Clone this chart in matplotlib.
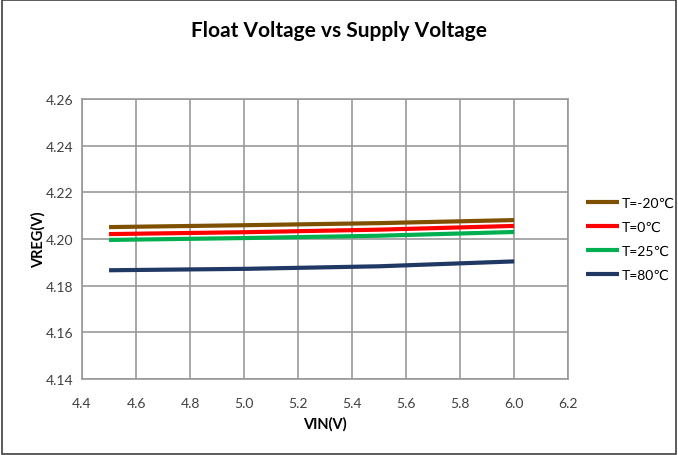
import matplotlib
matplotlib.use('Agg')
import matplotlib.pyplot as plt
from matplotlib.patches import Rectangle

plt.rcParams['font.family'] = ['Lato', 'DejaVu Sans']

vin = [4.5, 5.0, 5.5, 6.0]
t_m20 = [4.2051, 4.2059, 4.2068, 4.2081]
t_0 = [4.2021, 4.2029, 4.2040, 4.2056]
t_25 = [4.1996, 4.2004, 4.2014, 4.2030]
t_80 = [4.1866, 4.1872, 4.1883, 4.1904]

labels = ['T=-20℃', 'T=0℃', 'T=25℃', 'T=80℃']
colors = ['#7f5000', '#ff0000', '#00b050', '#1f3864']
series = [t_m20, t_0, t_25, t_80]

fig = plt.figure(figsize=(6.78, 4.56), dpi=100)
ax = fig.add_axes([0.121, 0.1667, 0.717, 0.614])

for vals, lab, col in zip(series, labels, colors):
    ax.plot(vin, vals, color=col, linewidth=3, label=lab, solid_capstyle='butt')

ax.set_xlim(4.4, 6.2)
ax.set_ylim(4.14, 4.26)
ax.set_xticks([4.4 + 0.2 * i for i in range(10)])
ax.set_yticks([4.14 + 0.02 * i for i in range(7)])
ax.xaxis.set_major_formatter(matplotlib.ticker.FormatStrFormatter('%.1f'))
ax.yaxis.set_major_formatter(matplotlib.ticker.FormatStrFormatter('%.2f'))
ax.grid(True, color='#999999', linewidth=1.2)
ax.set_axisbelow(True)
for s in ax.spines.values():
    s.set_color('#999999')
    s.set_linewidth(1.2)
ax.tick_params(length=0, labelsize=10, colors='#404040')
ax.tick_params(axis='x', pad=13)
ax.tick_params(axis='y', pad=6)

ax.set_xlabel('VIN(V)', fontsize=10.5, fontweight='bold', labelpad=5)
ax.set_ylabel('VREG(V)', fontsize=10.5, fontweight='bold', labelpad=0)
fig.suptitle('Float Voltage vs Supply Voltage', fontsize=15, fontweight='bold', y=0.953)

ax.legend(loc='center left', bbox_to_anchor=(1.01, 0.5), frameon=False,
          fontsize=10, handlelength=2.4, handletextpad=0.2, labelspacing=0.85)

fig.patches.append(Rectangle((0.003, 0.003), 0.994, 0.994, transform=fig.transFigure,
                             fill=False, edgecolor='#404040', linewidth=1.2))

plt.savefig('out.png', dpi=100)
